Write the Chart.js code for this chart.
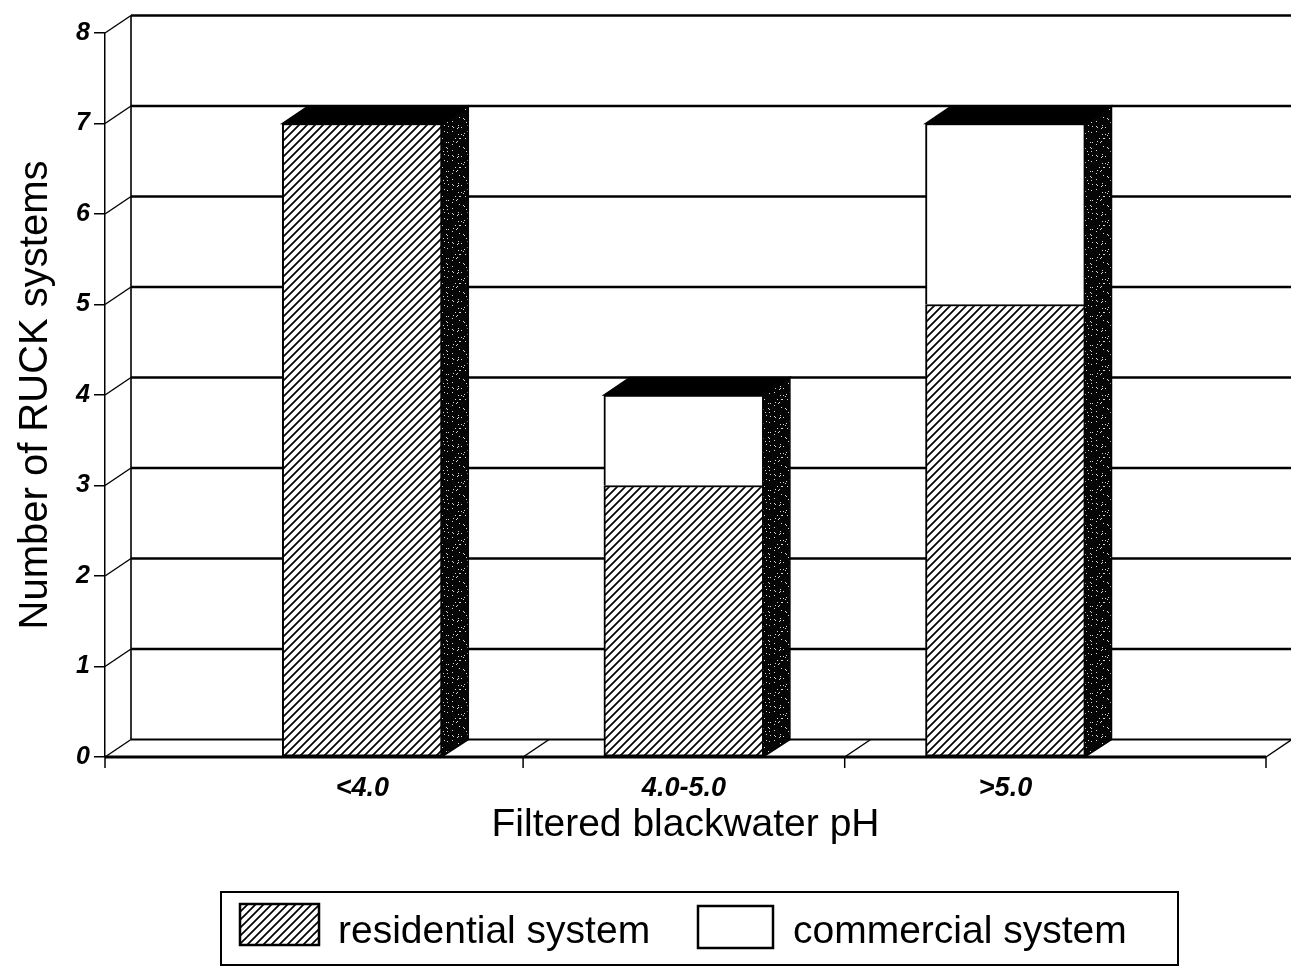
<!DOCTYPE html>
<html>
<head>
<meta charset="utf-8">
<script src="https://cdn.jsdelivr.net/npm/chart.js@4/dist/chart.umd.min.js"></script>
<style>
  html, body { margin: 0; padding: 0; background: #fff; }
  canvas { display: block; }
</style>
</head>
<body>
<canvas id="c" width="1291" height="967"></canvas>
<script>
// pH classes and number of systems in each class
const categories = ['<4.0', '4.0-5.0', '>5.0'];
const residential = [7, 3, 5];
const commercial = [0, 1, 2];
const yTicks = [0, 1, 2, 3, 4, 5, 6, 7, 8];
const seriesNames = ['residential system', 'commercial system'];

const canvas = document.getElementById('c');
const mainCtx = canvas.getContext('2d');

// diagonal hatch fill for the residential bars
function makeHatch() {
  const t = document.createElement('canvas');
  t.width = 8; t.height = 8;
  const g = t.getContext('2d');
  g.fillStyle = '#fff';
  g.fillRect(0, 0, 8, 8);
  g.strokeStyle = '#000';
  g.lineWidth = 1.7;
  g.beginPath();
  g.moveTo(-1, 9); g.lineTo(9, -1);
  g.moveTo(-1, 1); g.lineTo(1, -1);
  g.moveTo(7, 9); g.lineTo(9, 7);
  g.stroke();
  return mainCtx.createPattern(t, 'repeat');
}

// dark halftone texture for the shaded bar sides
function makeShade() {
  const t = document.createElement('canvas');
  t.width = 23; t.height = 29;
  const g = t.getContext('2d');
  g.fillStyle = '#050505';
  g.fillRect(0, 0, 23, 29);
  g.fillStyle = '#d8d8d8';
  for (let i = 0; i < 23; i++) {
    for (let j = 0; j < 29; j++) {
      if (((i * 7 + j * 13) ^ (i * j + 3)) % 19 === 0) g.fillRect(i, j, 1, 1);
    }
  }
  return mainCtx.createPattern(t, 'repeat');
}

const hatch = makeHatch();
const shade = makeShade();

const DEPTH_X = 26;
const DEPTH_Y = 17.5;

function seg(ctx, x1, y1, x2, y2, lw) {
  ctx.lineWidth = lw;
  ctx.beginPath();
  ctx.moveTo(x1, y1);
  ctx.lineTo(x2, y2);
  ctx.stroke();
}

// back wall, floor and depth edges behind the bars
const scenePlugin = {
  id: 'scene3d',
  beforeDatasetsDraw(chart) {
    const { ctx, chartArea: a, scales: { x, y } } = chart;
    ctx.save();
    ctx.strokeStyle = '#000';
    // horizontal rules on the back wall
    yTicks.forEach(v => {
      const py = y.getPixelForValue(v) - DEPTH_Y;
      seg(ctx, a.left + DEPTH_X, py, chart.width, py, v === 0 ? 2 : 2.6);
    });
    // left edge of the back wall
    seg(ctx, a.left + DEPTH_X, y.getPixelForValue(yTicks[yTicks.length - 1]) - DEPTH_Y,
        a.left + DEPTH_X, y.getPixelForValue(0) - DEPTH_Y, 1.6);
    // side wall diagonals from each tick
    yTicks.forEach(v => {
      const py = y.getPixelForValue(v);
      seg(ctx, a.left, py, a.left + DEPTH_X, py - DEPTH_Y, 1.4);
    });
    // front edge of the floor
    seg(ctx, a.left, a.bottom, a.right, a.bottom, 3);
    seg(ctx, a.left, a.bottom, a.left, a.bottom + 11, 1.5);
    // floor dividers between classes and at the right end
    const marks = categories.slice(1).map((_, i) => x.getPixelForValue(i + 0.5));
    marks.push(a.right);
    marks.forEach(px => {
      seg(ctx, px, a.bottom, px + DEPTH_X, a.bottom - DEPTH_Y, 1.5);
      seg(ctx, px, a.bottom, px, a.bottom + 11, 1.5);
    });
    ctx.restore();
  },
  afterDatasetsDraw(chart) {
    const { ctx, scales: { y } } = chart;
    const meta = chart.getDatasetMeta(0);
    ctx.save();
    ctx.strokeStyle = '#000';
    ctx.lineJoin = 'miter';
    categories.forEach((_, i) => {
      const bar = meta.data[i];
      const half = bar.width / 2;
      const L = bar.x - half;
      const R = bar.x + half;
      const top = y.getPixelForValue(residential[i] + commercial[i]);
      const base = y.getPixelForValue(0);
      // shaded side face
      ctx.fillStyle = shade;
      ctx.beginPath();
      ctx.moveTo(R - 1, base);
      ctx.lineTo(R + DEPTH_X, base - DEPTH_Y);
      ctx.lineTo(R + DEPTH_X, top - DEPTH_Y);
      ctx.lineTo(R - 1, top);
      ctx.closePath();
      ctx.fill();
      ctx.lineWidth = 1.5;
      ctx.stroke();
      // solid top face
      ctx.fillStyle = '#000';
      ctx.beginPath();
      ctx.moveTo(L, top);
      ctx.lineTo(L + DEPTH_X, top - DEPTH_Y);
      ctx.lineTo(R + DEPTH_X, top - DEPTH_Y);
      ctx.lineTo(R, top);
      ctx.closePath();
      ctx.fill();
      ctx.stroke();
    });
    ctx.restore();
  }
};

// boxed legend under the axis title
const legendPlugin = {
  id: 'boxLegend',
  afterDraw(chart) {
    const { ctx } = chart;
    ctx.save();
    ctx.strokeStyle = '#000';
    ctx.lineWidth = 2;
    ctx.strokeRect(221, 892, 957, 73);
    const items = [
      { sx: 240, sy: 904, sw: 79, sh: 41, tx: 338 },
      { sx: 698, sy: 906, sw: 75, sh: 42, tx: 793 }
    ];
    ctx.font = '39px "Liberation Sans", Arial, sans-serif';
    ctx.textBaseline = 'alphabetic';
    ctx.fillStyle = '#000';
    chart.data.datasets.forEach((ds, k) => {
      const it = items[k];
      ctx.fillStyle = ds.backgroundColor;
      ctx.fillRect(it.sx, it.sy, it.sw, it.sh);
      ctx.lineWidth = 2.5;
      ctx.strokeRect(it.sx, it.sy, it.sw, it.sh);
      ctx.fillStyle = '#000';
      ctx.fillText(ds.label, it.tx, 943);
    });
    ctx.restore();
  }
};

new Chart(mainCtx, {
  type: 'bar',
  data: {
    datasets: [
      {
        label: seriesNames[0],
        data: residential.map((v, i) => ({ x: i, y: v })),
        backgroundColor: hatch,
        borderColor: '#000',
        borderWidth: 2,
        borderSkipped: false,
        barThickness: 160
      },
      {
        label: seriesNames[1],
        data: commercial.map((v, i) => ({ x: i, y: v })),
        backgroundColor: '#fff',
        borderColor: '#000',
        borderWidth: 2,
        borderSkipped: 'start',
        barThickness: 160
      }
    ]
  },
  options: {
    responsive: false,
    animation: false,
    devicePixelRatio: 1,
    layout: { padding: { left: 0, right: 25, top: 33, bottom: 110 } },
    plugins: {
      legend: { display: false },
      tooltip: { enabled: false }
    },
    scales: {
      x: {
        type: 'linear',
        min: -0.8,
        max: 2.81,
        stacked: true,
        offset: false,
        grid: { display: false },
        border: { display: false },
        afterBuildTicks: s => { s.ticks = categories.map((_, i) => ({ value: i })); },
        afterFit: s => { s.height = 100; },
        ticks: {
          autoSkip: false,
          maxRotation: 0,
          padding: 7,
          color: '#000',
          font: { family: '"Liberation Sans", Arial, sans-serif', size: 27, weight: 'bold', style: 'italic' },
          callback: v => categories[v]
        },
        title: {
          display: true,
          text: 'Filtered blackwater pH',
          color: '#000',
          padding: { top: 0, bottom: 8 },
          font: { family: '"Liberation Sans", Arial, sans-serif', size: 39 }
        }
      },
      y: {
        type: 'linear',
        min: 0,
        max: 8,
        stacked: true,
        afterBuildTicks: s => { s.ticks = yTicks.map(v => ({ value: v })); },
        afterFit: s => { s.width = 105; },
        grid: { drawOnChartArea: false, drawTicks: true, tickLength: 11, color: '#000', lineWidth: 1.5 },
        border: { display: true, color: '#000', width: 1.5 },
        ticks: {
          padding: 4,
          color: '#000',
          font: { family: '"Liberation Sans", Arial, sans-serif', size: 25, weight: 'bold', style: 'italic' }
        },
        title: {
          display: true,
          text: 'Number of RUCK systems',
          color: '#000',
          padding: { top: 12, bottom: 0 },
          font: { family: '"Liberation Sans", Arial, sans-serif', size: 40 }
        }
      }
    }
  },
  plugins: [scenePlugin, legendPlugin]
});
</script>
</body>
</html>
